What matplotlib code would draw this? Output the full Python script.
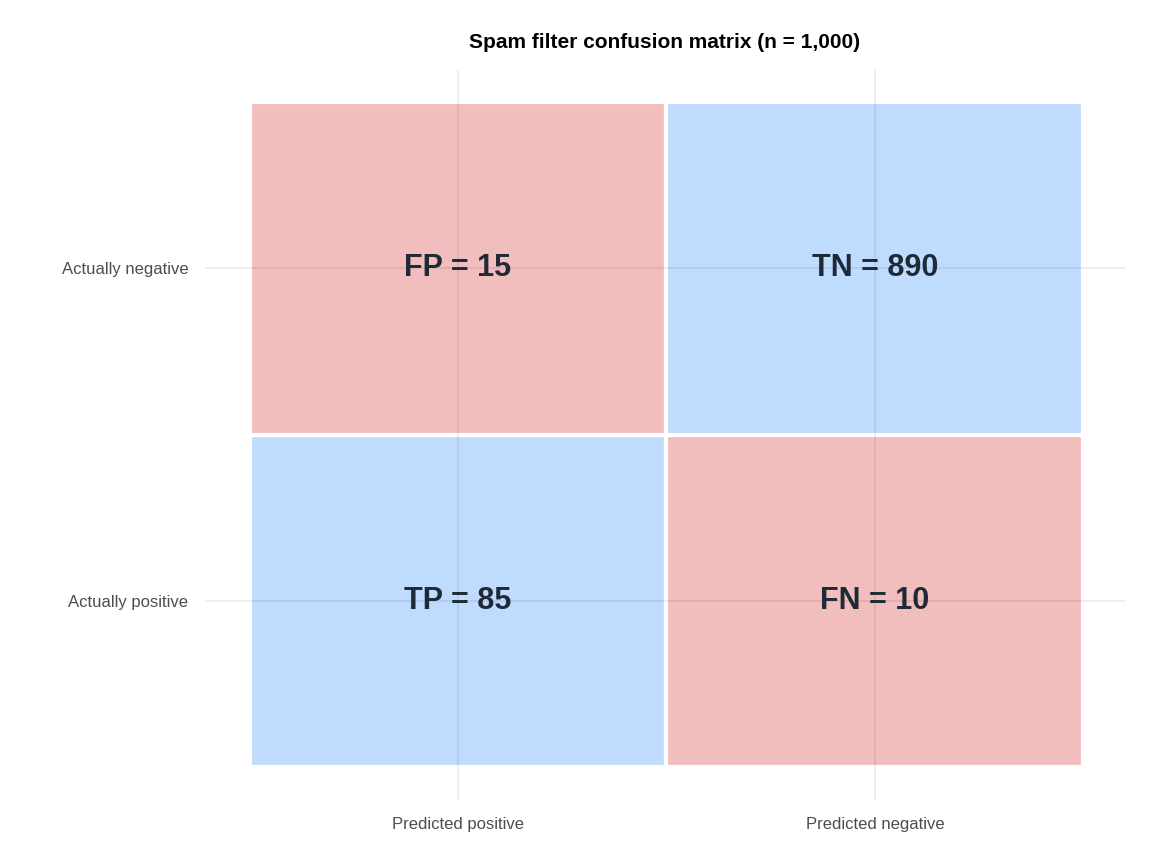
import matplotlib
matplotlib.use("Agg")
import matplotlib.pyplot as plt
from matplotlib.patches import Rectangle

plt.rcParams['font.family'] = ['Liberation Sans', 'DejaVu Sans']

x_labels = ["Predicted positive", "Predicted negative"]
y_labels = ["Actually positive", "Actually negative"]
cells = [  # (col, row, label, value, correct)
    (0, 0, "TP", 85, True),
    (1, 0, "FN", 10, False),
    (0, 1, "FP", 15, False),
    (1, 1, "TN", 890, True),
]
c_good = "#BFDBFE"
c_bad = "#F2BDBD"

fig = plt.figure(figsize=(11.52, 8.64), dpi=100)
ax = fig.add_axes([205/1152, 1-800/864, (1125-205)/1152, (800-70)/864])
for c, r, lab, val, ok in cells:
    ax.add_patch(Rectangle((c+1-0.5, r+1-0.5), 1, 1, facecolor=c_good if ok else c_bad,
                           edgecolor="white", linewidth=3, zorder=1))
    ax.text(c+1, r+1, f"{lab} = {val}", ha="center", va="center", fontsize=22,
            fontweight="bold", color="#1F2937", zorder=3)
ax.set_xlim(0.393, 2.6)
ax.set_ylim(0.402, 2.595)
ax.set_xticks([1, 2]); ax.set_xticklabels(x_labels)
ax.set_yticks([1, 2]); ax.set_yticklabels(y_labels)
for v in [1, 2]:
    ax.axvline(v, color="#000000", alpha=0.08, lw=1.2, zorder=2)
    ax.axhline(v, color="#000000", alpha=0.08, lw=1.2, zorder=2)
for s in ax.spines.values():
    s.set_visible(False)
ax.tick_params(length=0, labelsize=12, labelcolor="#4D4D4D", pad=12)
ax.set_title("Spam filter confusion matrix (n = 1,000)", fontsize=15, fontweight="bold", pad=16)
fig.savefig("out.png", dpi=100)
